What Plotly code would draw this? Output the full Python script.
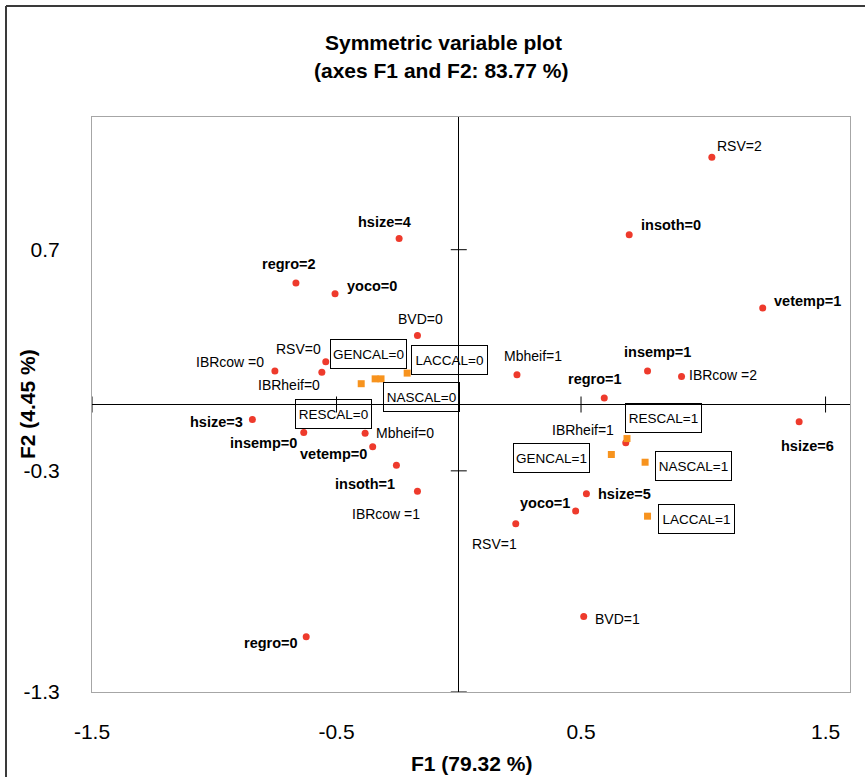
import plotly.graph_objects as go

# ---------------- data ----------------
act_labels = ["RSV=2", "insoth=0", "hsize=4", "regro=2", "yoco=0", "vetemp=1", "BVD=0",
              "RSV=0", "IBRcow =0", "IBRheif=0", "Mbheif=1", "insemp=1", "IBRcow =2",
              "regro=1", "hsize=3", "hsize=6", "insemp=0", "Mbheif=0", "IBRheif=1",
              "vetemp=0", "insoth=1", "IBRcow =1", "hsize=5", "yoco=1", "RSV=1",
              "BVD=1", "regro=0"]
act_f1 = [1.035, 0.697, -0.244, -0.666, -0.506, 1.243, -0.169,
          -0.544, -0.752, -0.560, 0.238, 0.772, 0.911,
          0.595, -0.844, 1.392, -0.634, -0.383, 0.683,
          -0.352, -0.255, -0.169, 0.522, 0.478, 0.233,
          0.511, -0.624]
act_f2 = [1.118, 0.768, 0.751, 0.549, 0.501, 0.436, 0.312,
          0.193, 0.152, 0.146, 0.135, 0.152, 0.127,
          0.029, -0.068, -0.078, -0.127, -0.130, -0.173,
          -0.191, -0.275, -0.392, -0.403, -0.481, -0.539,
          -0.959, -1.050]
act_bold = [False, True, True, True, True, True, False,
            False, False, False, False, True, False,
            True, True, True, True, False, False,
            True, True, False, True, True, False,
            False, True]

sup_labels = ["RESCAL=0", "GENCAL=0", "NASCAL=0", "LACCAL=0",
              "RESCAL=1", "GENCAL=1", "NASCAL=1", "LACCAL=1"]
sup_f1 = [-0.399, -0.342, -0.318, -0.211, 0.688, 0.624, 0.762, 0.772]
sup_f2 = [0.094, 0.116, 0.116, 0.142, -0.154, -0.226, -0.261, -0.505]

x_ticks = [-1.5, -0.5, 0.5, 1.5]
y_ticks = [0.7, -0.3, -1.3]

title1 = "Symmetric variable plot"
title2 = "(axes F1 and F2: 83.77 %)"
x_title = "F1 (79.32 %)"
y_title = "F2 (4.45 %)"

# ---------------- label offsets (pixels, +y up) ----------------
act_off = [(28, 11), (42, 10), (-15, 16), (-7, 19), (37, 8), (45, 7), (3, 17),
           (-27, 13), (-45, 9), (-33, -13), (16, 19), (10, 19), (41, 1),
           (-9, 19), (-36, -2), (8, -24), (-40, -10), (40, 0), (-43, 13),
           (-39, -7), (-31, -19), (-31, -23), (38, 0), (-31, 8), (-21, -20),
           (34, -2), (-35, -6)]
sup_off = [(-28, -30), (-7, 25), (40, -18), (42, 13),
           (36, 21), (-60, -4), (48, -4), (49, -3)]

# ---------------- layout constants ----------------
W, H = 865, 777
ML, MR, MT, MB = 92, 15, 117, 85
PW, PH = W - ML - MR, H - MT - MB


def px(xp):
    return (xp - ML) / PW


def py(yp):
    return (H - MB - yp) / PH


RED = "#ee3a2c"
ORANGE = "#f7931e"
FONT = "Liberation Sans, Arial, sans-serif"

fig = go.Figure()
fig.add_trace(go.Scatter(x=act_f1, y=act_f2, mode="markers",
                         marker=dict(color=RED, size=7, symbol="circle"),
                         hoverinfo="text", text=act_labels, showlegend=False))
fig.add_trace(go.Scatter(x=sup_f1, y=sup_f2, mode="markers",
                         marker=dict(color=ORANGE, size=7, symbol="square"),
                         hoverinfo="text", text=sup_labels, showlegend=False))

ann = []
for lab, x, y, b, (dx, dy) in zip(act_labels, act_f1, act_f2, act_bold, act_off):
    ann.append(dict(x=x, y=y, xref="x", yref="y", xshift=dx, yshift=dy,
                    text=f"<b>{lab}</b>" if b else lab, showarrow=False,
                    font=dict(family=FONT, size=14.5 if b else 14, color="black"),
                    xanchor="center", yanchor="middle"))
for lab, x, y, (dx, dy) in zip(sup_labels, sup_f1, sup_f2, sup_off):
    ann.append(dict(x=x, y=y, xref="x", yref="y", xshift=dx, yshift=dy,
                    text=lab, showarrow=False,
                    font=dict(family=FONT, size=13.5, color="black"),
                    bordercolor="black", borderwidth=1, borderpad=2,
                    width=71, height=24, bgcolor="rgba(255,255,255,0)",
                    xanchor="center", yanchor="middle"))

TF = dict(family=FONT, size=21, color="black")
ann.append(dict(x=px(443), y=py(42), xref="paper", yref="paper", text=f"<b>{title1}</b>",
                showarrow=False, font=TF, xanchor="center", yanchor="middle"))
ann.append(dict(x=px(441), y=py(70), xref="paper", yref="paper", text=f"<b>{title2}</b>",
                showarrow=False, font=TF, xanchor="center", yanchor="middle"))
ann.append(dict(x=px(471), y=py(764), xref="paper", yref="paper", text=f"<b>{x_title}</b>",
                showarrow=False, font=TF, xanchor="center", yanchor="middle"))
ann.append(dict(x=px(27), y=py(404), xref="paper", yref="paper", text=f"<b>{y_title}</b>",
                showarrow=False, textangle=-90, font=TF, xanchor="center", yanchor="middle"))
fig.update_layout(annotations=ann)

shapes = []
# tick marks crossing the central axes
for xv in x_ticks:
    shapes.append(dict(type="line", xref="x", yref="y", x0=xv, x1=xv,
                       ysizemode="pixel", yanchor=0, y0=-8, y1=8,
                       line=dict(color="black", width=1)))
for yv in y_ticks:
    shapes.append(dict(type="line", xref="x", yref="y", y0=yv, y1=yv,
                       xsizemode="pixel", xanchor=0, x0=-8, x1=8,
                       line=dict(color="black", width=1)))
# outer frame (top and left)
shapes.append(dict(type="line", xref="paper", yref="paper", x0=px(6), x1=px(W + 5),
                   y0=py(6), y1=py(6), line=dict(color="#3a3a3a", width=2)))
shapes.append(dict(type="line", xref="paper", yref="paper", x0=px(6), x1=px(6),
                   y0=py(6), y1=py(H + 5), line=dict(color="#3a3a3a", width=2)))
fig.update_layout(shapes=shapes)

axis_common = dict(showgrid=False, zeroline=True, zerolinecolor="black", zerolinewidth=1,
                   showline=True, mirror=True, linecolor="#a6a6a6", linewidth=1,
                   ticks="", tickfont=dict(family=FONT, size=21, color="black"),
                   fixedrange=True)
fig.update_xaxes(range=[-1.5, 1.6], tickmode="array", tickvals=x_ticks,
                 ticktext=[str(v) for v in x_ticks], ticklabelstandoff=21, **axis_common)
fig.update_yaxes(range=[-1.3, 1.3], tickmode="array", tickvals=y_ticks,
                 ticktext=[str(v) for v in y_ticks], ticklabelstandoff=27, **axis_common)

fig.update_layout(width=W, height=H, margin=dict(l=ML, r=MR, t=MT, b=MB, autoexpand=False),
                  plot_bgcolor="white", paper_bgcolor="white", showlegend=False,
                  font=dict(family=FONT, color="black"))

fig.write_html("out.html")
